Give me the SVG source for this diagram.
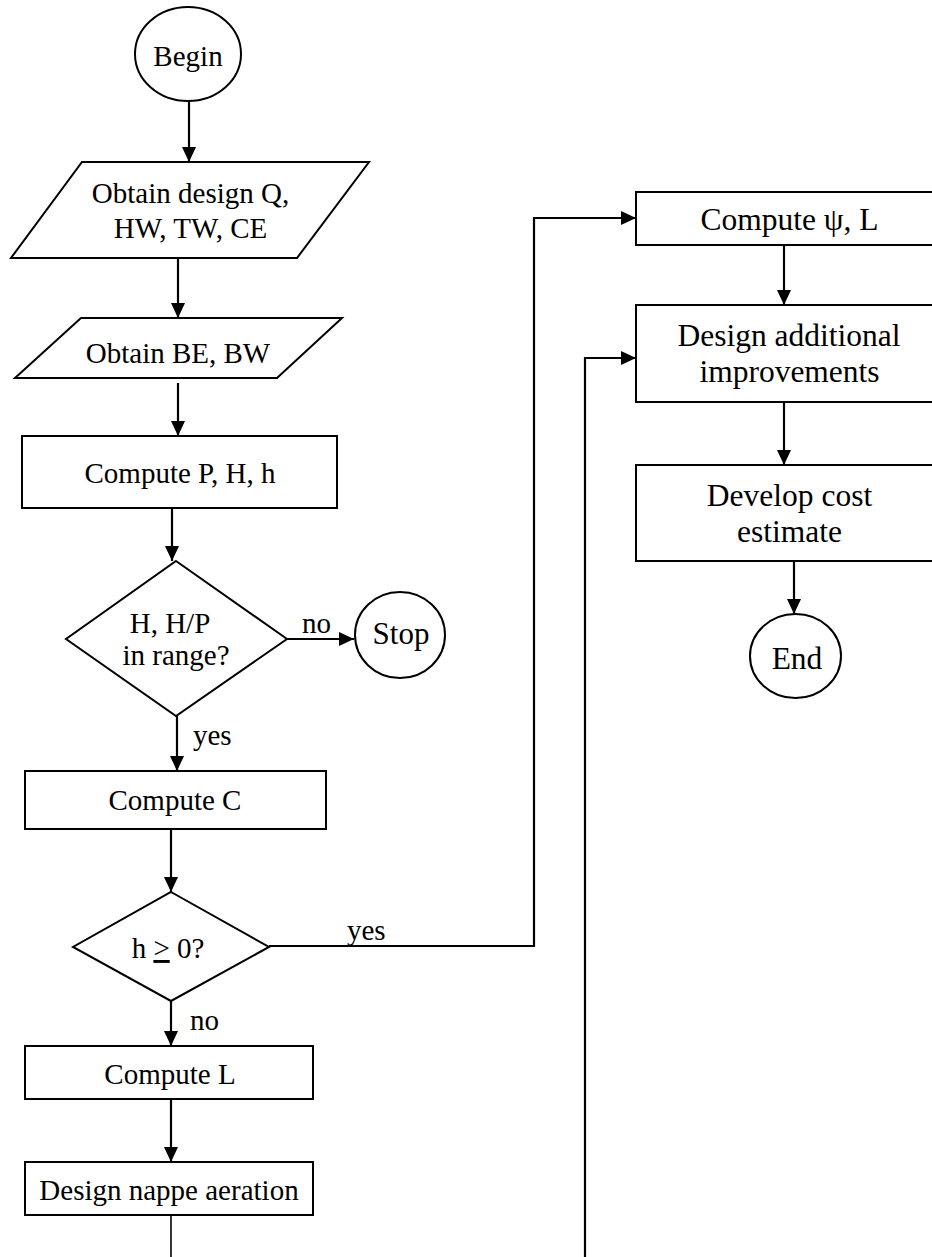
<svg xmlns="http://www.w3.org/2000/svg" width="932" height="1257" viewBox="0 0 932 1257">
<style>
.shape{fill:#fff;stroke:#000;stroke-width:2}
.t{font-family:"Liberation Serif","Times New Roman",serif;font-size:29px;fill:#000;text-anchor:middle}
.tb{font-size:31.5px}
.c{fill:none;stroke:#000;stroke-width:2.2}
.thin{fill:none;stroke:#000;stroke-width:1.6}
.lbl{font-family:"Liberation Serif","Times New Roman",serif;font-size:29px;fill:#000}
</style>
<defs>
<marker id="ah" markerUnits="userSpaceOnUse" markerWidth="15" markerHeight="14" refX="15" refY="7" orient="auto">
<path d="M0,0 L15,7 L0,14 z" fill="#000"/>
</marker>
</defs>
<rect width="932" height="1257" fill="#fff"/>
<g id="connectors">
<line class="c" x1="189" y1="101" x2="189" y2="162" marker-end="url(#ah)"/>
<line class="c" x1="178" y1="258" x2="178" y2="318" marker-end="url(#ah)"/>
<line class="c" x1="178" y1="383" x2="178" y2="436" marker-end="url(#ah)"/>
<line class="c" x1="172" y1="508" x2="172" y2="561" marker-end="url(#ah)"/>
<line class="c" x1="287" y1="639" x2="354" y2="639" marker-end="url(#ah)"/>
<line class="c" x1="177" y1="716" x2="177" y2="771" marker-end="url(#ah)"/>
<line class="c" x1="171" y1="829" x2="171" y2="892" marker-end="url(#ah)"/>
<polyline class="c" points="269,946 534,946 534,218 636,218" marker-end="url(#ah)"/>
<line class="c" x1="171" y1="1001" x2="171" y2="1046" marker-end="url(#ah)"/>
<line class="c" x1="171" y1="1099" x2="171" y2="1162" marker-end="url(#ah)"/>
<line class="thin" x1="171" y1="1215" x2="171" y2="1257"/>
<polyline class="c" points="585,1257 585,358 636,358" marker-end="url(#ah)"/>
<line class="c" x1="784" y1="245" x2="784" y2="305" marker-end="url(#ah)"/>
<line class="c" x1="784" y1="402" x2="784" y2="465" marker-end="url(#ah)"/>
<line class="c" x1="794" y1="561" x2="794" y2="614" marker-end="url(#ah)"/>
<text class="lbl" x="302" y="633">no</text>
<text class="lbl" x="193" y="745">yes</text>
<text class="lbl" x="347" y="940">yes</text>
<text class="lbl" x="190" y="1030">no</text>
</g>
<g id="begin">
<ellipse class="shape" cx="188" cy="54" rx="53" ry="47"/>
<text class="t" x="188" y="66">Begin</text>
</g>
<g id="obtain-design">
<polygon class="shape" points="82,162 369,162 297,258 11,258"/>
<text class="t" x="190.5" y="203">Obtain design Q,</text>
<text class="t" x="190.5" y="238">HW, TW, CE</text>
</g>
<g id="obtain-be">
<polygon class="shape" points="81,318 342,318 277,378 15,378"/>
<text class="t" x="178" y="363">Obtain BE, BW</text>
</g>
<g id="compute-phh">
<rect class="shape" x="22" y="436" width="315" height="72"/>
<text class="t" x="180" y="483">Compute P, H, h</text>
</g>
<g id="range-check">
<polygon class="shape" points="176,561 287,639 176,716 66,639"/>
<text class="t" x="170" y="633">H, H/P</text>
<text class="t" x="176" y="665">in range?</text>
</g>
<g id="stop">
<ellipse class="shape" cx="400" cy="635" rx="45" ry="43"/>
<text class="t" x="401" y="644" style="font-size:31px">Stop</text>
</g>
<g id="compute-c">
<rect class="shape" x="25" y="771" width="301" height="58"/>
<text class="t" x="175" y="810">Compute C</text>
</g>
<g id="h-check">
<polygon class="shape" points="171,892 269,947 171,1001 73,947"/>
<text class="t" x="168" y="958">h <tspan text-decoration="underline">&gt;</tspan> 0?</text>
</g>
<g id="compute-l">
<rect class="shape" x="25" y="1046" width="288" height="53"/>
<text class="t" x="170" y="1084">Compute L</text>
</g>
<g id="nappe">
<rect class="shape" x="25" y="1162" width="288" height="53"/>
<text class="t" x="169" y="1200">Design nappe aeration</text>
</g>
<g id="compute-psi">
<rect class="shape" x="636" y="192" width="310" height="53"/>
<text class="t tb" x="789.5" y="230">Compute ψ, L</text>
</g>
<g id="additional">
<rect class="shape" x="636" y="305" width="310" height="97"/>
<text class="t tb" x="789" y="346">Design additional</text>
<text class="t tb" x="789.5" y="382">improvements</text>
</g>
<g id="cost">
<rect class="shape" x="636" y="465" width="310" height="96"/>
<text class="t tb" x="789.5" y="506">Develop cost</text>
<text class="t tb" x="789.5" y="542">estimate</text>
</g>
<g id="end">
<ellipse class="shape" cx="795.5" cy="656" rx="45.5" ry="42"/>
<text class="t tb" x="797" y="669">End</text>
</g>
</svg>
